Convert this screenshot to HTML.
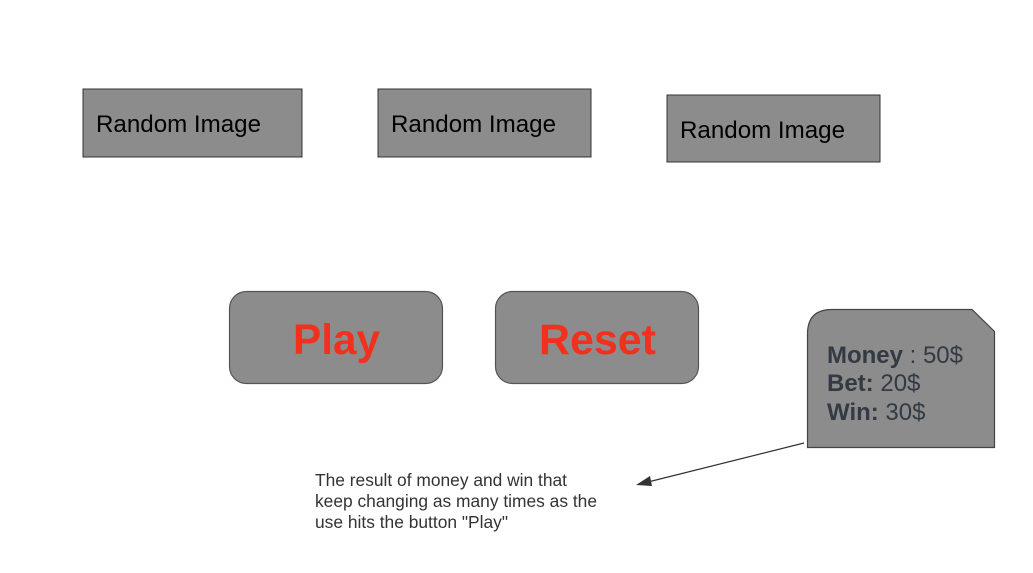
<!DOCTYPE html>
<html><head><meta charset="utf-8"><style>
html,body{margin:0;padding:0;background:#fff;}
svg{display:block;}
</style></head><body>
<svg width="1033" height="573" viewBox="0 0 1033 573" xmlns="http://www.w3.org/2000/svg" font-family="Liberation Sans, Arial, sans-serif">
<rect width="1033" height="573" fill="#fff"/>
<g fill="#8c8c8c" stroke="#333" stroke-width="1">
<rect x="83" y="89" width="219" height="68"/>
<rect x="378" y="89" width="213" height="68"/>
<rect x="667" y="95" width="213" height="67"/>
</g>
<g font-size="24" fill="#000">
<text x="96" y="132" textLength="165" lengthAdjust="spacingAndGlyphs">Random Image</text>
<text x="391" y="132" textLength="165" lengthAdjust="spacingAndGlyphs">Random Image</text>
<text x="680" y="138" textLength="165" lengthAdjust="spacingAndGlyphs">Random Image</text>
</g>
<g fill="#8c8c8c" stroke="#555" stroke-width="1.2">
<rect x="229.5" y="291.5" width="213" height="92" rx="17"/>
<rect x="495.5" y="291.5" width="203" height="92" rx="17"/>
</g>
<g font-size="43" font-weight="bold" fill="#f2301e">
<text x="293" y="354" textLength="87" lengthAdjust="spacingAndGlyphs">Play</text>
<text x="539" y="354" textLength="117" lengthAdjust="spacingAndGlyphs">Reset</text>
</g>
<path d="M807.5,447.5 L807.5,334 Q807.5,309.5 832,309.5 L972,309.5 L994.5,331.5 L994.5,447.5 Z" fill="#8c8c8c" stroke="#444" stroke-width="1.2"/>
<g font-size="24" fill="#333a44">
<text x="827" y="363" textLength="136" lengthAdjust="spacingAndGlyphs"><tspan font-weight="bold">Money</tspan> : 50$</text>
<text x="827" y="391"><tspan font-weight="bold">Bet:</tspan> 20$</text>
<text x="827" y="420"><tspan font-weight="bold">Win:</tspan> 30$</text>
</g>
<line x1="804" y1="443" x2="648" y2="482" stroke="#333" stroke-width="1.3"/>
<polygon points="636,485 650,476 652,486" fill="#333"/>
<g font-size="17.4" fill="#333">
<text x="315" y="486" textLength="252" lengthAdjust="spacingAndGlyphs">The result of money and win that</text>
<text x="315" y="507" textLength="282" lengthAdjust="spacingAndGlyphs">keep changing as many times as the</text>
<text x="315" y="528" textLength="193" lengthAdjust="spacingAndGlyphs">use hits the button "Play"</text>
</g>
</svg>
</body></html>
